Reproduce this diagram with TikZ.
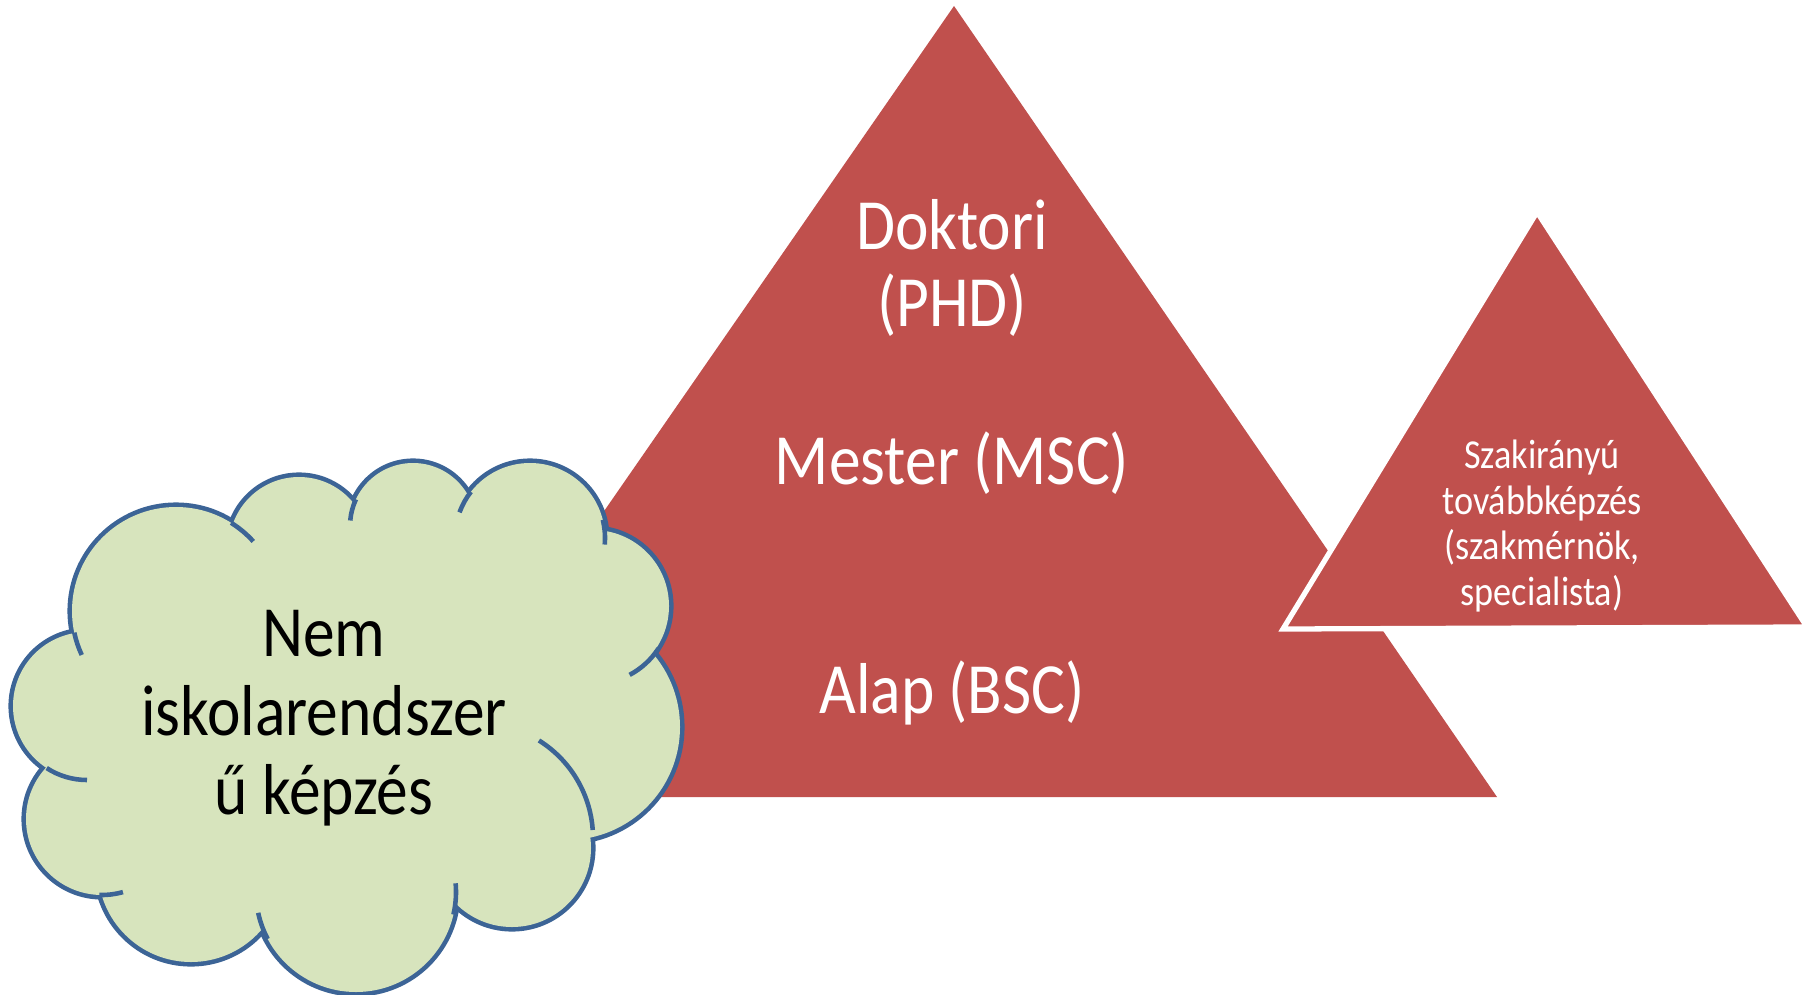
\documentclass[tikz,border=0pt]{standalone}
\usepackage{fontspec}
\setmainfont{Carlito}[FakeStretch=0.88]
\definecolor{pyrared}{HTML}{C0504D}
\definecolor{cloudgreen}{HTML}{D7E4BD}
\definecolor{cloudline}{HTML}{3C6496}
\tikzset{
  pyramid/.style    = { fill=pyrared },
  sidepyramid/.style= { pyramid, draw=white, line width=1.5pt },
  cloudrim/.style   = { draw=cloudline, line width=2.6pt },
  cloudbody/.style  = { fill=cloudgreen },
  cloudtick/.style  = { draw=cloudline, line width=1.3pt },
}
\tikzset{
  label/.style      = { align=center, inner sep=0pt },
  level/.style      = { label, text=white, font=\fontsize{20.5}{22}\selectfont },
  sidelevel/.style  = { label, text=white, font=\fontsize{11.7}{13}\selectfont },
  cloudtext/.style  = { label, text=black, font=\fontsize{20.5}{22.4}\selectfont }
}
% puffs of the cloud: x/y/radius
\def\cloudpuffs{176/611/104, 299/547/70, 413/526/63, 530/538/75, 593/606/76,
  567/727/113, 512/848/79, 356/892/100, 191/869/93, 102/819/76, 87/706/74}
\begin{document}
\begin{tikzpicture}[x=0.01cm,y=-0.01cm]
  \useasboundingbox (0,0) rectangle (1816,994);

  \fill [pyramid] (954,6) -- (1497,797) -- (406,797) -- cycle;
  \filldraw [sidepyramid] (1537,212) -- (1807,627) -- (1283,629) -- cycle;

  \node (phd)  [level]     at (952,268)  {Doktori\\(PHD)};
  \node (msc)  [level]     at (952,463)  {Mester (MSC)};
  \node (bsc)  [level]     at (952,693)  {Alap (BSC)};
  \node (spec) [sidelevel] at (1542,526) {Szakirányú\\továbbképzés\\(szakmérnök,\\specialista)};

  % cloud: rims first, then the bodies cover the inner half
  \foreach \cx/\cy/\r in \cloudpuffs
    \draw [cloudrim] (\cx,\cy) circle [radius=\r];
  \foreach \cx/\cy/\r in \cloudpuffs
    \fill [cloudbody] (\cx,\cy) circle [radius=\r];
  \fill [cloudbody] (176,611) -- (299,547) -- (413,526) -- (530,538) -- (593,606) -- (567,727)
    -- (512,848) -- (356,892) -- (191,869) -- (102,819) -- (87,706) -- cycle;
  \foreach \cx/\cy/\r/\a/\b in {176/611/104/-58/-42, 413/526/63/205/185, 530/538/75/218/200,
      530/538/75/-14/5, 593/606/78/33/62, 356/892/100/-5/13, 356/892/100/152/168,
      102/819/76/74/92, 87/706/74/123/90, 176/611/104/168/155, 478/838/115/-58/-4}
    \draw [cloudtick] (\cx,\cy) ++(\a:\r) arc [start angle=\a, end angle=\b, radius=\r];

  \node (nonformal) [cloudtext] at (324,718) {Nem\\iskolarendszer\\ű képzés};

\end{tikzpicture}
\end{document}
